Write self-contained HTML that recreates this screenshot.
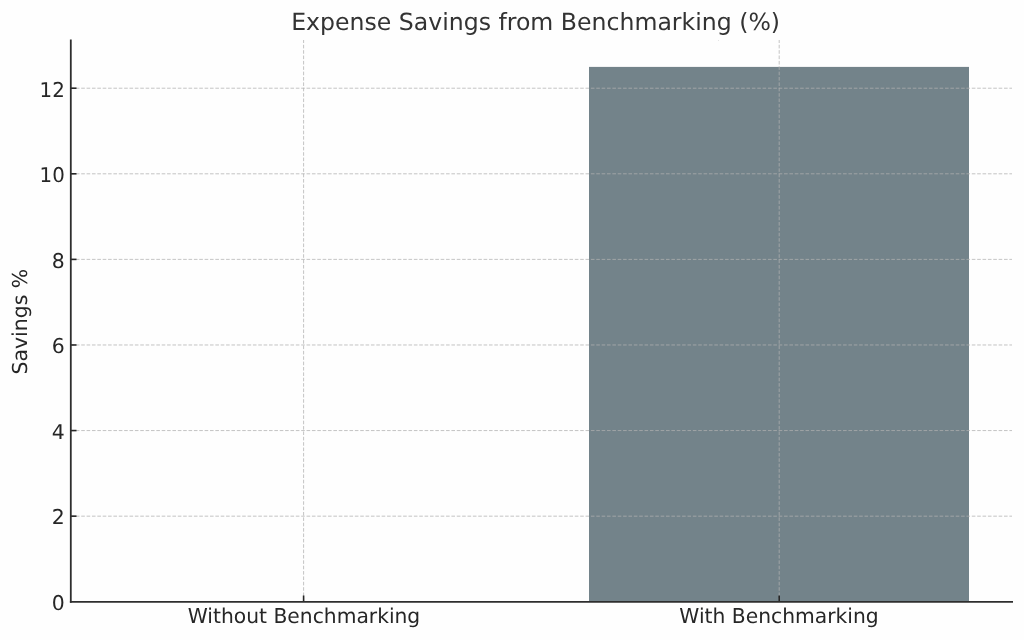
<!DOCTYPE html>
<html>
<head>
<meta charset="utf-8">
<title>Expense Savings from Benchmarking (%)</title>
<style>
html,body{margin:0;padding:0;background:#fefefe;}
body{width:1024px;height:640px;overflow:hidden;}
svg{display:block;will-change:transform;text-rendering:geometricPrecision;}
text{font-family:"DejaVu Sans","Liberation Sans",sans-serif;}
.tl{font-size:20.5px;fill:#262626;}
</style>
</head>
<body>
<svg width="1024" height="640" viewBox="0 0 1024 640">
<rect x="0" y="0" width="1024" height="640" fill="#fefefe"/>
<rect x="589" y="66.9" width="380" height="535" fill="#73838a"/>
<rect x="718" y="40" width="1" height="1" fill="#e4e4e4"/>
<g stroke="#b0b0b0" stroke-opacity="0.75" stroke-width="1" stroke-dasharray="3.6 1.765" fill="none">
<line x1="70.5" y1="88.21" x2="1012" y2="88.21"/>
<line x1="70.5" y1="173.80" x2="1012" y2="173.80"/>
<line x1="70.5" y1="259.39" x2="1012" y2="259.39"/>
<line x1="70.5" y1="344.98" x2="1012" y2="344.98"/>
<line x1="70.5" y1="430.57" x2="1012" y2="430.57"/>
<line x1="70.5" y1="516.16" x2="1012" y2="516.16"/>
</g>
<g stroke="#b0b0b0" stroke-opacity="0.75" stroke-width="1" stroke-dasharray="3.6 1.77" fill="none">
<line x1="303.6" y1="601.5" x2="303.6" y2="40"/>
<line x1="779.2" y1="601.5" x2="779.2" y2="40"/>
</g>
<g stroke="#262626" stroke-width="1.6" fill="none">
<line x1="71" y1="88.21" x2="76.5" y2="88.21"/>
<line x1="71" y1="173.80" x2="76.5" y2="173.80"/>
<line x1="71" y1="259.39" x2="76.5" y2="259.39"/>
<line x1="71" y1="344.98" x2="76.5" y2="344.98"/>
<line x1="71" y1="430.57" x2="76.5" y2="430.57"/>
<line x1="71" y1="516.16" x2="76.5" y2="516.16"/>
<line x1="303.6" y1="601" x2="303.6" y2="595.5"/>
<line x1="779.2" y1="601" x2="779.2" y2="595.5"/>
</g>
<g stroke="#2e2e2e" stroke-width="1.8" fill="none" stroke-linecap="square">
<line x1="70.8" y1="40.5" x2="70.8" y2="601.8"/>
<line x1="70.8" y1="601.8" x2="1012.1" y2="601.8"/>
</g>
<g class="tl" text-anchor="end" style="font-size:20.4px">
<text x="64.8" y="610.05" textLength="12.98" lengthAdjust="spacingAndGlyphs">0</text>
<text x="64.8" y="96.51" textLength="25.18" lengthAdjust="spacingAndGlyphs">12</text>
<text x="64.8" y="182.10" textLength="25.18" lengthAdjust="spacingAndGlyphs">10</text>
<text x="64.8" y="267.69" textLength="12.98" lengthAdjust="spacingAndGlyphs">8</text>
<text x="64.8" y="353.28" textLength="12.98" lengthAdjust="spacingAndGlyphs">6</text>
<text x="64.8" y="438.87" textLength="12.98" lengthAdjust="spacingAndGlyphs">4</text>
<text x="64.8" y="524.46" textLength="12.98" lengthAdjust="spacingAndGlyphs">2</text>
</g>
<g class="tl" text-anchor="middle">
<text x="304" y="623.3" textLength="232.5" lengthAdjust="spacingAndGlyphs">Without Benchmarking</text>
<text x="779" y="623.3" textLength="199.4" lengthAdjust="spacingAndGlyphs">With Benchmarking</text>
</g>
<text class="tl" text-anchor="middle" transform="translate(26.9,321.6) rotate(-90)" textLength="105.8" lengthAdjust="spacingAndGlyphs">Savings %</text>
<text x="535.6" y="30.2" text-anchor="middle" style="font-size:23.6px;fill:#333333;">Expense Savings from Benchmarking (%)</text>
</svg>
</body>
</html>
